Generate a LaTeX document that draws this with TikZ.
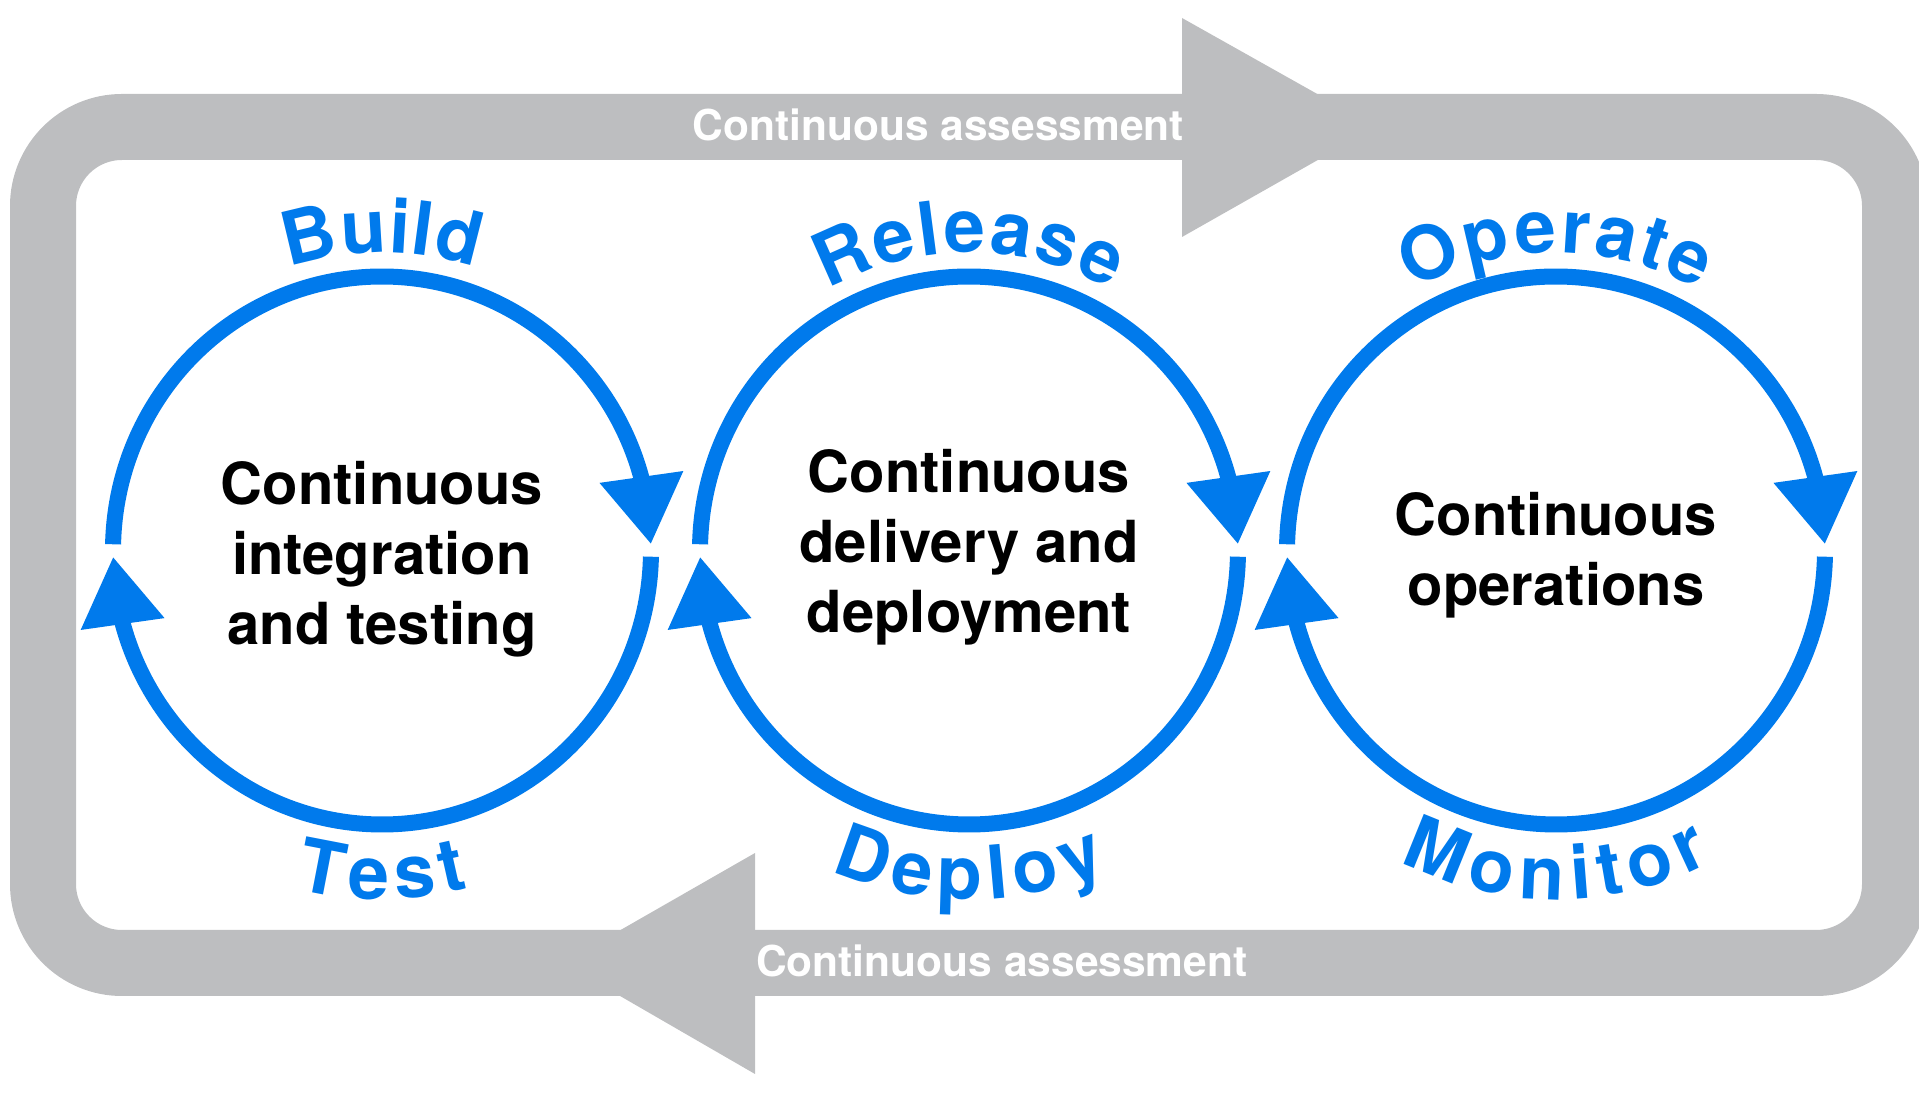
\documentclass[tikz,border=0pt]{standalone}
\usepackage{fontspec}
\setmainfont{TeX Gyre Heros}
\usetikzlibrary{arrows.meta}
\usetikzlibrary{bending, calc, decorations.text}

\definecolor{ciclo}{RGB}{0,122,236}
\definecolor{banda}{RGB}{189,190,192}
\newcommand{\cyclefont}{\fontsize{74}{80}\selectfont\bfseries}

\begin{document}
\begin{tikzpicture}[
        x=1pt, y=1pt, % Un punto por pixel de la figura
        % --- Estilos personalizados para mayor claridad ---
        band/.style={draw=banda, line width=66pt, rounded corners=79pt},
        bandtext/.style={text=white, inner sep=0pt, font=\fontsize{42.5}{50}\selectfont\bfseries},
        cyclearrow/.style={-{Triangle[length=68pt, width=80pt, flex]}, line width=16pt, ciclo},
        cyclelabel/.style={decorate, decoration={text along path, text align={fit to path},
            text color=ciclo, text={|\cyclefont|#1}}},
        centertext/.style={align=center, font=\fontsize{58}{70}\selectfont\bfseries},
    ]
        \clip (0,0) rectangle (1919,1116);

        % --- 1. Banda gris de evaluacion continua ---
        \draw[band] (43,153) rectangle (1895,989);
        \fill[banda] (1182,1098) -- (1376,989) -- (1182,879) -- cycle;
        \fill[banda] (755,263) -- (563,153) -- (755,42) -- cycle;
        \node[bandtext, anchor=base east] (topband) at (1184,975) {Continuous assessment};
        \node[bandtext, anchor=base west] (botband) at (756,139) {Continuous assessment};

        % --- 2. Los tres ciclos con sus flechas y etiquetas curvas ---
        % \ta y \ba: media apertura (grados) de las etiquetas de arriba y de abajo
        \foreach \cx/\toptext/\ta/\bottext/\ba in {382/Build/18.45/Test/14.55,
                969/Release/28.8/Deploy/23.7, 1556/Operate/29.1/Monitor/26.9} {
            \coordinate (c\cx) at (\cx,565.5);
            \draw[cyclearrow] ($(c\cx)+(178.7:269 and 274)$) arc[start angle=178.7, end angle=1.3, x radius=269, y radius=274];
            \draw[cyclearrow] ($(c\cx)+(-1.3:269 and 274)$) arc[start angle=-1.3, end angle=-178.7, x radius=269, y radius=274];
            \path[cyclelabel/.expanded=\toptext] ($(c\cx)+(90+\ta:293 and 298)$) arc[start angle=90+\ta, end angle=90-\ta, x radius=293, y radius=298];
            \path[cyclelabel/.expanded=\bottext] ($(c\cx)+(270-\ba:344 and 349)$) arc[start angle=270-\ba, end angle=270+\ba, x radius=344, y radius=349];
        }

        % --- 3. Textos centrales ---
        \node[centertext] (integration) at (382,557) {Continuous\\integration\\and testing};
        \node[centertext] (delivery) at (969,569) {Continuous\\delivery and\\deployment};
        \node[centertext] (operations) at (1556,561) {Continuous\\operations};

    \end{tikzpicture}
\end{document}
